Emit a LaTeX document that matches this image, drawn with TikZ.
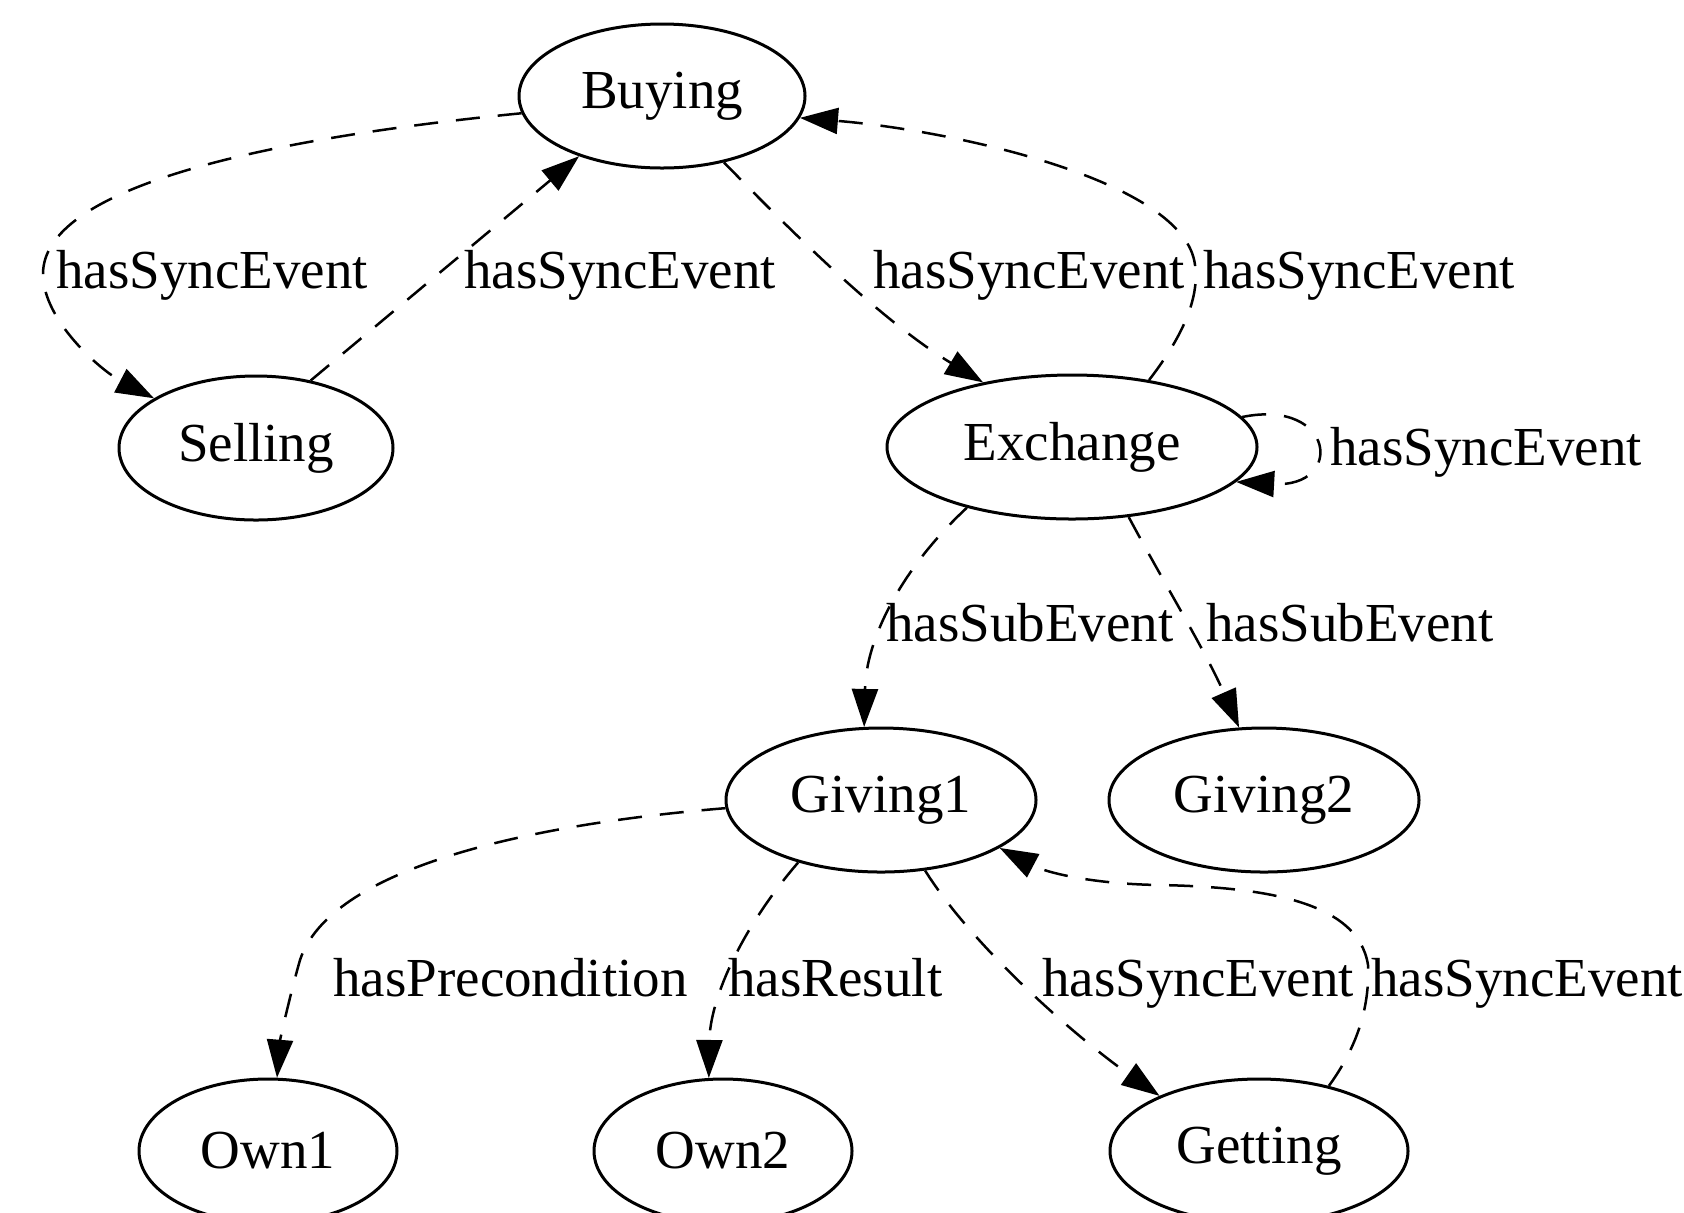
\documentclass[tikz,border=0pt]{standalone}
\usepackage{fontspec}
\setmainfont{Liberation Serif}
\usetikzlibrary{shapes.geometric,arrows.meta}
\begin{document}
\begin{tikzpicture}[x=0.5pt,y=-0.5pt,
  ev/.style={ellipse,draw,line width=1.5pt,inner sep=0pt,font=\fontsize{27.5}{32}\selectfont},
  rel/.style={draw,line width=1.25pt,dash pattern=on 12pt off 9pt,-{Triangle[length=19pt,width=13pt]}},
  lbl/.style={anchor=base west,inner sep=0pt,font=\fontsize{27.5}{32}\selectfont}]
\useasboundingbox (0,0) rectangle (1684,1212);
% nodes
\node[ev,minimum width=143pt,minimum height=72pt] (buy) at (662,96) {Buying};
\node[ev,minimum width=137pt,minimum height=72pt] (sell) at (256,448) {Selling};
\node[ev,minimum width=185pt,minimum height=72pt] (ex) at (1072,447) {Exchange};
\node[ev,minimum width=155pt,minimum height=72pt] (g1) at (881,800) {Giving1};
\node[ev,minimum width=155pt,minimum height=72pt] (g2) at (1264,800) {Giving2};
\node[ev,minimum width=129pt,minimum height=72pt] (o1) at (268,1151) {Own1};
\node[ev,minimum width=129pt,minimum height=72pt] (o2) at (723,1151) {Own2};
\node[ev,minimum width=149pt,minimum height=72pt] (get) at (1259,1151) {Getting};
% edges
\draw[rel] (buy.187) .. controls (250,140) and (43,190) .. (43,274)
  .. controls (43,320) and (100,370) .. (sell.154);
\draw[rel] (sell.51) -- (buy.216);
\draw[rel] (buy.313) .. controls (790,230) and (880,320) .. (ex.144);
\draw[rel] (ex.41) .. controls (1180,340) and (1200,300) .. (1195,265)
  .. controls (1185,180) and (950,130) .. (buy.351);
\draw[rel] (ex.10) .. controls (1335,398) and (1345,488) .. (ex.348);
\draw[rel] (ex.210) .. controls (900,570) and (866,640) .. (g1.103);
\draw[rel] (ex.309) .. controls (1165,585) and (1205,650) .. (g2.109);
\draw[rel] (g1.183) .. controls (520,825) and (330,870) .. (300,960)
  .. controls (290,995) and (280,1040) .. (o1.83);
\draw[rel] (g1.217) .. controls (740,930) and (710,1000) .. (o2.101);
\draw[rel] (g1.302) .. controls (975,950) and (1080,1040) .. (get.151);
\draw[rel] (get.43) .. controls (1355,1050) and (1370,1010) .. (1368,965)
  .. controls (1358,900) and (1260,887) .. (1160,885)
  .. controls (1090,884) and (1045,872) .. (g1.338);
% labels
\node[lbl] (l1) at (56,288) {hasSyncEvent};
\node[lbl] (l2) at (464,288) {hasSyncEvent};
\node[lbl] (l3) at (873,288) {hasSyncEvent};
\node[lbl] (l4) at (1203,288) {hasSyncEvent};
\node[lbl] (l5) at (1330,465) {hasSyncEvent};
\node[lbl] (l6) at (886,641) {hasSubEvent};
\node[lbl] (l7) at (1206,641) {hasSubEvent};
\node[lbl] (l8) at (333,996) {hasPrecondition};
\node[lbl] (l9) at (728,996) {hasResult};
\node[lbl] (l10) at (1042,996) {hasSyncEvent};
\node[lbl] (l11) at (1371,996) {hasSyncEvent};
\end{tikzpicture}
\end{document}
